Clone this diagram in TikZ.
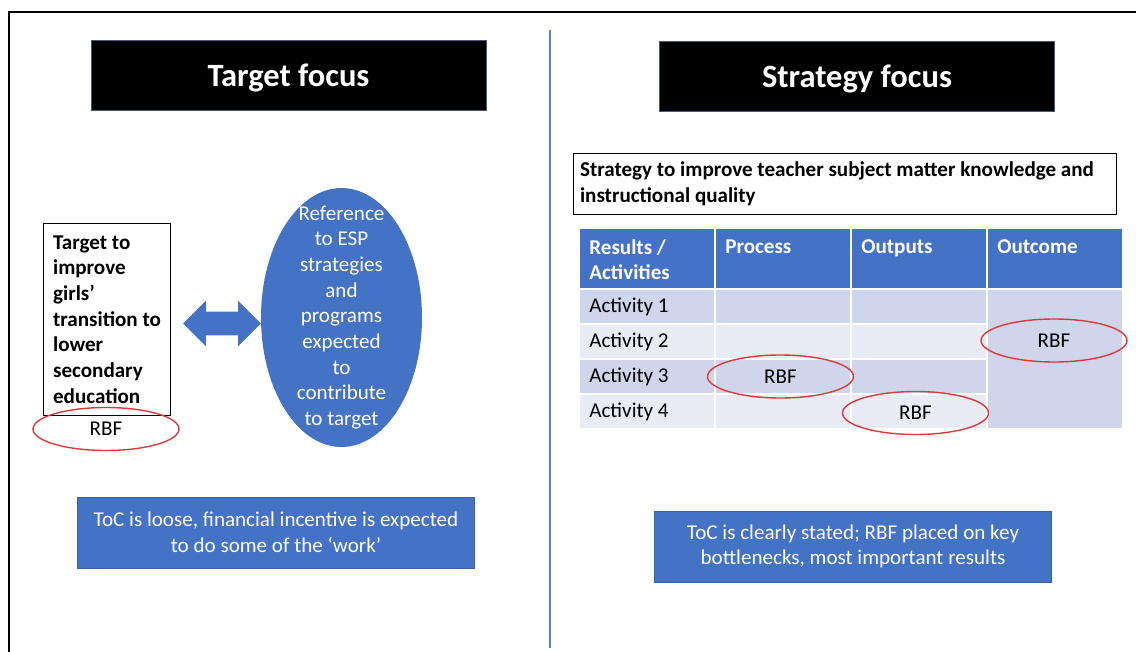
\documentclass[tikz,border=0pt]{standalone}
\usepackage{fontspec}
\setmainfont{Carlito}
\usetikzlibrary{shapes.geometric,shapes.arrows}

\definecolor{tocBlue}{HTML}{4472C4}
\definecolor{rowDark}{HTML}{CFD5EA}
\definecolor{rowLight}{HTML}{E9EBF5}
\definecolor{rbfRed}{HTML}{E0383A}
\definecolor{titleEdge}{HTML}{4A5A78}
\definecolor{splitBlue}{HTML}{5A80CC}

\begin{document}
\begin{tikzpicture}[
    x=0.02cm, y=-0.02cm,
    every node/.style={align=center, font=\fontsize{12}{14.6}\selectfont},
    titleBox/.style={rectangle, fill=black, draw=titleEdge, line width=0.5pt, text=white, font=\fontsize{18.5}{22}\selectfont\bfseries, text depth=0pt, minimum width=7.9cm, minimum height=1.4cm},
    blueNote/.style={rectangle, fill=tocBlue, draw=tocBlue!85!black, line width=0.4pt, text=white, minimum width=7.93cm, minimum height=1.42cm},
    rbfRing/.style={ellipse, draw=rbfRed, line width=0.8pt, inner sep=0pt, minimum width=2.92cm, minimum height=0.86cm},
    headCell/.style={rectangle, fill=tocBlue, anchor=north west, minimum width=2.68cm, minimum height=1.18cm, inner sep=0pt},
    headText/.style={anchor=north west, align=left, text=white, font=\fontsize{12}{14.6}\selectfont\bfseries, inner xsep=0.18cm, inner ysep=0.2cm},
    darkCell/.style={rectangle, fill=rowDark, anchor=north west, minimum width=2.68cm, minimum height=0.66cm, inner sep=0pt},
    lightCell/.style={darkCell, fill=rowLight},
    actCell/.style={align=flush left, text width=2.32cm, inner xsep=0.18cm}
]
\useasboundingbox (0,0) rectangle (1136,652);

% Frame and divider
\draw[line width=1.1pt] (9,652) -- (9,12) -- (1136,12);
\draw[splitBlue, line width=1.4pt] (550,30) -- (550,648);

% Titles
\node[titleBox] (tgtTitle) at (288.5,75) {Target focus};
\node[titleBox] (stratTitle) at (857,76) {Strategy focus};

% Target side
\node[rectangle, draw, line width=0.6pt, fill=white, anchor=north west, align=left,
      font=\fontsize{12}{14.6}\selectfont\bfseries, minimum width=2.54cm, minimum height=3.84cm,
      inner xsep=0.12cm] (tgtBox) at (43,223)
    {Target to\\ improve\\ girls’\\ transition to\\ lower\\ secondary\\ education};
\node[rbfRing] (tgtRbf) at (106,429) {RBF};
\node[double arrow, fill=tocBlue, inner xsep=0pt, inner ysep=0.23cm, minimum height=1.56cm,
      double arrow head extend=0.22cm, double arrow head indent=0pt] (espLink) at (222,323.5) {};
\node[ellipse, fill=tocBlue, text=white, inner xsep=0pt, inner ysep=-0.48cm, minimum width=3.22cm, minimum height=5.18cm] (espEllipse) at (341.5,317.5)
    {Reference\\ to ESP\\ strategies\\ and\\ programs\\ expected\\ to\\ contribute\\ to target};
\node[blueNote] (tgtNote) at (276,532.5) {ToC is loose, financial incentive is expected\\ to do some of the ‘work’};

% Strategy side
\node[rectangle, draw, line width=0.6pt, anchor=north west, align=flush left,
      font=\fontsize{12}{14.6}\selectfont\bfseries, minimum width=10.86cm, minimum height=1.22cm,
      text width=10.6cm, inner xsep=0.13cm] (stratBox) at (573,153)
    {Strategy to improve teacher subject matter knowledge and\\ instructional quality};

% Table header
\node[headCell] (hRes) at (580,229) {};
\node[headCell] (hProc) at (716,229) {};
\node[headCell] (hOut) at (852,229) {};
\node[headCell] (hOutc) at (988,229) {};
\node[headText] at (hRes.north west) {Results /\\ Activities};
\node[headText] at (hProc.north west) {Process};
\node[headText] at (hOut.north west) {Outputs};
\node[headText] at (hOutc.north west) {Outcome};

% Table rows
\node[darkCell, actCell] (a1) at (580,290) {Activity 1};
\node[darkCell] (p1) at (716,290) {};
\node[darkCell] (o1) at (852,290) {};
\node[lightCell, actCell] (a2) at (580,325) {Activity 2};
\node[lightCell] (p2) at (716,325) {};
\node[lightCell] (o2) at (852,325) {};
\node[darkCell, actCell] (a3) at (580,360) {Activity 3};
\node[darkCell] (p3) at (716,360) {};
\node[darkCell] (o3) at (852,360) {};
\node[lightCell, actCell] (a4) at (580,395) {Activity 4};
\node[lightCell] (p4) at (716,395) {};
\node[lightCell] (o4) at (852,395) {};
\node[darkCell, minimum height=2.76cm] (outc) at (988,290) {};

% RBF marks
\node[rbfRing] (rbfOutc) at (1054,340.5) {RBF};
\node[rbfRing] (rbfProc) at (780.5,376.5) {RBF};
\node[rbfRing] (rbfOut) at (915.5,413) {RBF};

\node[blueNote] (stratNote) at (853,546.5) {ToC is clearly stated; RBF placed on key\\ bottlenecks, most important results};

\end{tikzpicture}
\end{document}
